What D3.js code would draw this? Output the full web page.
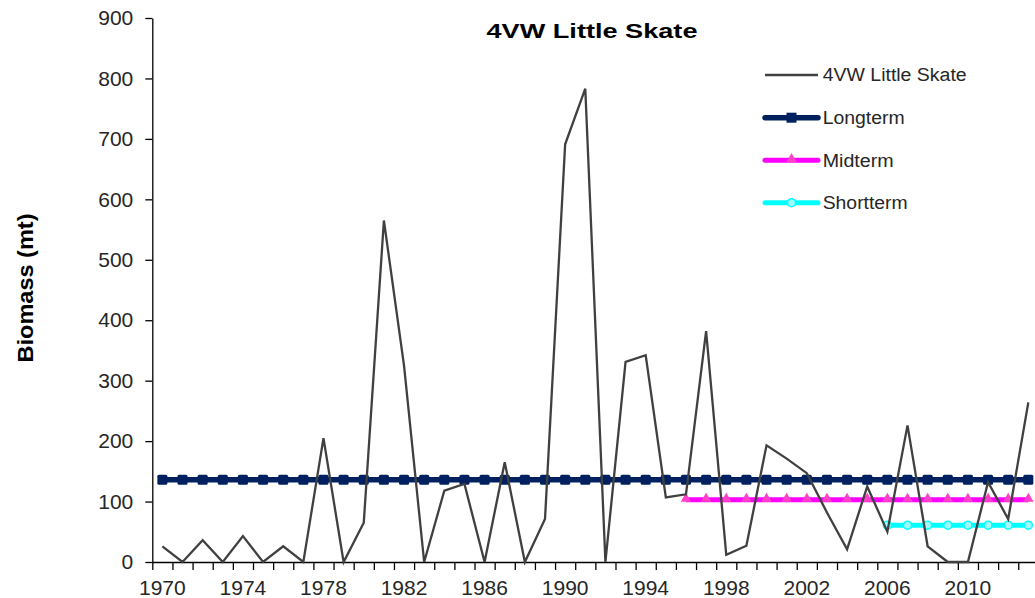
<!DOCTYPE html>
<html>
<head>
<meta charset="utf-8">
<script src="https://cdn.jsdelivr.net/npm/d3@7"></script>
<style>
  html, body { margin: 0; padding: 0; background: #fff; }
  svg { display: block; font-family: "Liberation Sans", Arial, sans-serif; }
</style>
</head>
<body>
<svg id="chart" width="1035" height="598"></svg>
<script>
// ---- data ----
const years = [1970,1971,1972,1973,1974,1975,1976,1977,1978,1979,1980,1981,1982,1983,1984,1985,1986,1987,1988,1989,
               1990,1991,1992,1993,1994,1995,1996,1997,1998,1999,2000,2001,2002,2003,2004,2005,2006,2007,2008,2009,
               2010,2011,2012,2013];
const biomass = [26,0,36,0,43,0,26,0,205,0,65,565,325,0,118,129,0,165,0,71,
                 691,783,0,331,342,107,112,382,12,27,193,171,147,82,21,125,50,226,26,0,
                 0,132,71,264];
const longtermValue = 136;
const longtermYears = years;
const midtermValue = 103;
const midtermYears = years.filter(y => y >= 1996);
const shorttermValue = 61;
const shorttermYears = years.filter(y => y >= 2006);
const yTicks = [0,100,200,300,400,500,600,700,800,900];
const xLabelYears = [1970,1974,1978,1982,1986,1990,1994,1998,2002,2006,2010];
const legendItems = ["4VW Little Skate", "Longterm", "Midterm", "Shortterm"];
const titleText = "4VW Little Skate";
const yTitle = "Biomass (mt)";

// ---- layout ----
const svg = d3.select("#chart");
const pLeft = 152.3, pRight = 1038.4, pTop = 18, pBottom = 562;
const x = d3.scaleBand().domain(years).range([pLeft, pRight]).padding(0);
const cx = yr => x(yr) + x.bandwidth() / 2;
const y = d3.scaleLinear().domain([0, 900]).range([pBottom, pTop]);
const xb = d3.scaleLinear().domain([0, years.length]).range([pLeft, pRight]);

const textColor = "#262626";
const colors = { data: "#404040", long: "#002060", mid: "#FF00FF", midMarker: "#FF40C8", short: "#00FFFF", shortMarker: "#9FFFFF" };

// Y axis
const yAxis = svg.append("g").attr("transform", `translate(${pLeft},0)`)
  .call(d3.axisLeft(y).tickValues(yTicks).tickSizeInner(7).tickSizeOuter(0).tickPadding(12).tickFormat(d3.format("d")));
yAxis.select(".domain").attr("stroke", "#000").attr("stroke-width", 1.3);
yAxis.selectAll(".tick line").attr("stroke", "#000").attr("stroke-width", 1.3);
yAxis.selectAll(".tick text").attr("font-size", 21).attr("fill", textColor).attr("font-family", "Liberation Sans, Arial, sans-serif");

// X axis: boundary ticks
const xTickAxis = svg.append("g").attr("transform", `translate(0,${pBottom})`)
  .call(d3.axisBottom(xb).tickValues(d3.range(0, years.length + 1)).tickFormat("").tickSizeInner(8).tickSizeOuter(0));
xTickAxis.select(".domain").attr("stroke", "#000").attr("stroke-width", 1.3);
xTickAxis.selectAll(".tick line").attr("stroke", "#000").attr("stroke-width", 1.3);

// X axis labels centered on categories
const xLabelAxis = svg.append("g").attr("transform", `translate(0,${pBottom})`)
  .call(d3.axisBottom(x).tickValues(xLabelYears).tickSize(0).tickPadding(18));
xLabelAxis.select(".domain").remove();
xLabelAxis.selectAll(".tick text").attr("font-size", 21).attr("fill", textColor).attr("font-family", "Liberation Sans, Arial, sans-serif");

// ---- series ----
const line = d3.line().x(d => cx(d.year)).y(d => y(d.value));

function constSeries(yrs, v) { return yrs.map(yr => ({ year: yr, value: v })); }
const longData = constSeries(longtermYears, longtermValue);
const midData = constSeries(midtermYears, midtermValue);
const shortData = constSeries(shorttermYears, shorttermValue);
const mainData = years.map((yr, i) => ({ year: yr, value: biomass[i] }));

// Longterm
svg.append("path").datum(longData).attr("d", line).attr("fill", "none")
  .attr("stroke", colors.long).attr("stroke-width", 5.5);
svg.append("g").selectAll("rect").data(longData).join("rect")
  .attr("x", d => cx(d.year) - 5).attr("y", d => y(d.value) - 5)
  .attr("width", 10).attr("height", 10).attr("rx", 1.5).attr("fill", colors.long);

// Midterm
svg.append("path").datum(midData).attr("d", line).attr("fill", "none")
  .attr("stroke", colors.mid).attr("stroke-width", 5);
svg.append("g").selectAll("path").data(midData).join("path")
  .attr("d", d3.symbol().type(d3.symbolTriangle).size(48))
  .attr("transform", d => `translate(${cx(d.year)},${y(d.value) - 1})`)
  .attr("fill", colors.midMarker);

// Shortterm
svg.append("path").datum(shortData).attr("d", line).attr("fill", "none")
  .attr("stroke", colors.short).attr("stroke-width", 5);
svg.append("g").selectAll("circle").data(shortData).join("circle")
  .attr("cx", d => cx(d.year)).attr("cy", d => y(d.value)).attr("r", 4)
  .attr("fill", colors.shortMarker).attr("stroke", colors.short).attr("stroke-width", 1.5);

// Main biomass line
svg.append("path").datum(mainData).attr("d", line).attr("fill", "none")
  .attr("stroke", colors.data).attr("stroke-width", 2.3).attr("stroke-linejoin", "miter");

// ---- title ----
svg.append("text").attr("x", 592).attr("y", 37.5).attr("text-anchor", "middle")
  .attr("font-size", 21).attr("font-weight", "bold").attr("fill", "#000")
  .attr("textLength", 211).attr("lengthAdjust", "spacingAndGlyphs")
  .text(titleText);

// Y title
svg.append("text").attr("transform", "translate(25,288) rotate(-90)")
  .attr("text-anchor", "middle").attr("dy", "0.35em")
  .attr("font-size", 22).attr("font-weight", "bold").attr("fill", "#000")
  .attr("textLength", 149).attr("lengthAdjust", "spacingAndGlyphs")
  .text(yTitle);

// ---- legend ----
const legendRows = [75, 117.7, 160.2, 202.7];
const legendWidths = [144, 82, 71, 85];
const lx0 = 765, lx1 = 818, lmid = 791.5, ltx = 822.7;
const lg = svg.append("g");
legendItems.forEach((name, i) => {
  const ly = legendRows[i];
  if (i === 0) {
    lg.append("line").attr("x1", lx0).attr("x2", lx1).attr("y1", ly).attr("y2", ly)
      .attr("stroke", colors.data).attr("stroke-width", 2.3);
  } else if (i === 1) {
    lg.append("line").attr("x1", lx0).attr("x2", lx1).attr("y1", ly).attr("y2", ly)
      .attr("stroke", colors.long).attr("stroke-width", 5.5).attr("stroke-linecap", "round");
    lg.append("rect").attr("x", lmid - 5).attr("y", ly - 5).attr("width", 10).attr("height", 10).attr("fill", colors.long);
  } else if (i === 2) {
    lg.append("line").attr("x1", lx0).attr("x2", lx1).attr("y1", ly).attr("y2", ly)
      .attr("stroke", colors.mid).attr("stroke-width", 5).attr("stroke-linecap", "round");
    lg.append("path").attr("d", d3.symbol().type(d3.symbolTriangle).size(48)())
      .attr("transform", `translate(${lmid},${ly - 1})`).attr("fill", colors.midMarker);
  } else {
    lg.append("line").attr("x1", lx0).attr("x2", lx1).attr("y1", ly).attr("y2", ly)
      .attr("stroke", colors.short).attr("stroke-width", 5).attr("stroke-linecap", "round");
    lg.append("circle").attr("cx", lmid).attr("cy", ly).attr("r", 4)
      .attr("fill", colors.shortMarker).attr("stroke", colors.short).attr("stroke-width", 1.5);
  }
  lg.append("text").attr("x", ltx).attr("y", ly).attr("dy", "0.35em")
    .attr("font-size", 18).attr("fill", textColor)
    .attr("textLength", legendWidths[i]).attr("lengthAdjust", "spacingAndGlyphs")
    .text(name);
});
</script>
</body>
</html>
